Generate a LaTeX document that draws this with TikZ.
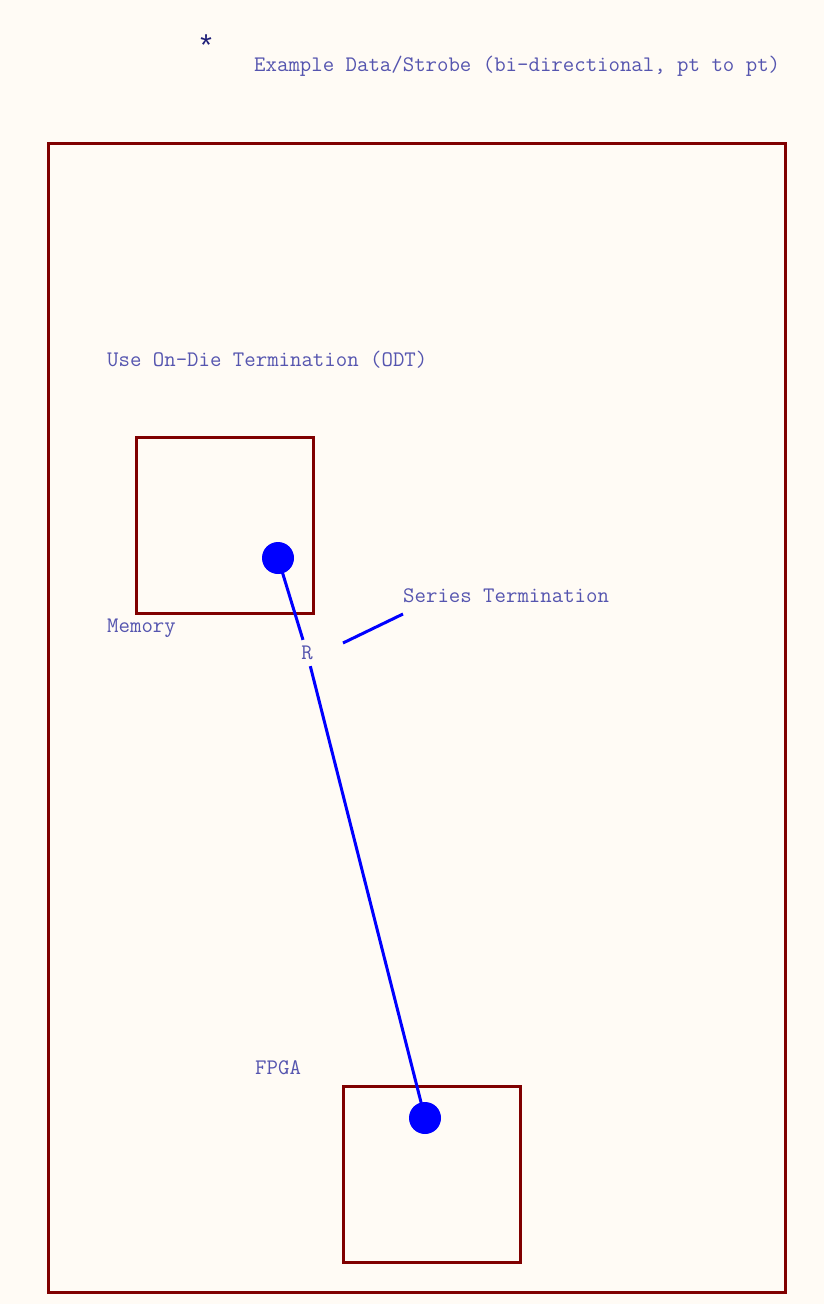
\documentclass[tikz,border=0pt]{standalone}
\usepackage{fontspec}
\setmainfont{Liberation Mono}
\usetikzlibrary{positioning}
\definecolor{paper}{RGB}{255,251,245}
\definecolor{boardred}{RGB}{128,0,0}
\definecolor{labelblue}{RGB}{85,85,175}
\definecolor{starblue}{RGB}{30,30,120}
\definecolor{netblue}{RGB}{0,0,255}

\begin{document}
\begin{tikzpicture}[x=1pt,y=-1pt,
    lbl/.style={text=labelblue,font=\ttfamily\fontsize{22.2}{26}\selectfont,inner sep=0pt},
    chip/.style={draw=boardred,line width=3pt},
    pin/.style={circle,fill=netblue,minimum size=32pt,inner sep=0pt},
    net/.style={draw=netblue,line width=3pt}]
  % Page and board outline.
  \fill[paper] (0,0) rectangle (824,1304);
  \draw[chip] (48,143) rectangle (785,1292);

  % Title.
  \node[text=starblue,font=\fontsize{30}{30}\selectfont,inner sep=0pt] (star) at (206,46) {*};
  \node[lbl,anchor=base west] (title) at (254,71) {Example Data/Strobe (bi-directional, pt to pt)};
  \node[lbl,anchor=base west] (odt) at (107,366) {Use On-Die Termination (ODT)};

  % Memory and FPGA packages.
  \draw[chip] (136,437) rectangle (313,613);
  \node[lbl,anchor=base west] (mem) at (107,632) {Memory};
  \draw[chip] (343,1086) rectangle (520,1262);
  \node[lbl,anchor=base west] (fpga) at (255,1074) {FPGA};

  % Pins and the point to point net.
  \node[pin] (mempin) at (278,558) {};
  \node[pin] (fpgapin) at (425,1118) {};
  \node[lbl,inner sep=6pt] (res) at (307,653) {R};
  \draw[net] (mempin.center) -- (res);
  \draw[net] (res) -- (fpgapin.center);

  % Series termination callout.
  \node[lbl,anchor=base west] (series) at (403,602) {Series Termination};
  \coordinate (lead) at (343,643);
  \draw[net] (lead) -- ([yshift=-12pt]series.base west);
\end{tikzpicture}
\end{document}
